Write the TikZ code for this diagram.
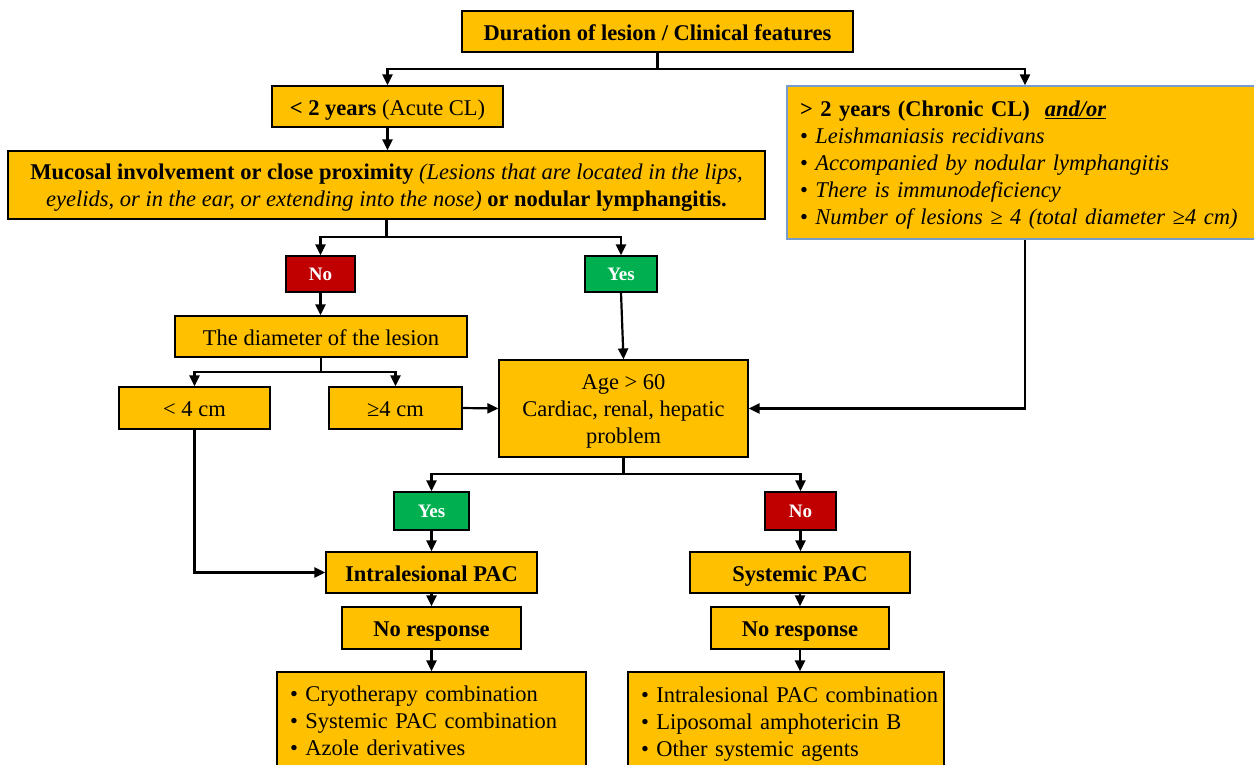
\documentclass[tikz,border=0pt]{standalone}
\usepackage{fontspec}
\setmainfont{Liberation Serif}
\usetikzlibrary{arrows.meta}
\definecolor{gold}{HTML}{FFC000}
\definecolor{nored}{HTML}{C00000}
\definecolor{yesgreen}{HTML}{00B050}
\definecolor{bluebd}{RGB}{120,155,205}
\newcommand{\upstrut}{\rule{0pt}{21pt}}
\tikzset{
  box/.style={draw=black, fill=gold, line width=1.2pt, inner sep=0pt, align=center,
    font=\fontsize{22.5}{27}\selectfont},
  one/.style={box, text height=18pt, text depth=1pt},
  nobox/.style={box, fill=nored, text=white, font=\fontsize{19}{22}\selectfont\bfseries,
    text height=14pt, text depth=1pt},
  yesbox/.style={nobox, fill=yesgreen},
  arr/.style={line width=2.2pt, -{Triangle[length=11pt,width=10pt]}},
  ln/.style={line width=2.2pt}
}
\begin{document}
\begin{tikzpicture}[x=1pt,y=-1pt]
\clip (0,0) rectangle (1254,764);
\fill[white] (0,0) rectangle (1254,764);
% nodes
\node[one, minimum width=391, minimum height=41] (top) at (657.5,31.5) {\textbf{Duration of lesion / Clinical features}};
\node[one, minimum width=231, minimum height=41] (acute) at (387.5,106.5) {\textbf{< 2 years} (Acute CL)};
\node[box, draw=bluebd, minimum width=476, minimum height=153, text width=450, inner xsep=13pt, align=left] (chronic) at (1025,162.5)
 {\upstrut\textbf{> 2 years (Chronic CL)}\ \ \textbf{\textit{\underline{and/or}}}\\
  • \textit{Leishmaniasis recidivans}\\
  • \textit{Accompanied by nodular lymphangitis}\\
  • \textit{There is immunodeficiency}\\
  • \textit{Number of lesions ≥ 4 (total diameter ≥4 cm)}};
\node[box, minimum width=757, minimum height=68] (mucosal) at (386.5,185)
 {\upstrut\textbf{Mucosal involvement or close proximity} \textit{(Lesions that are located in the lips,}\\
  \textit{eyelids, or in the ear, or extending into the nose)} \textbf{or nodular lymphangitis.}};
\node[nobox, minimum width=69, minimum height=36] (no1) at (320.5,274) {No};
\node[yesbox, minimum width=72, minimum height=36] (yes1) at (621,274) {Yes};
\node[one, minimum width=292, minimum height=41] (diam) at (321,336.5) {The diameter of the lesion};
\node[one, minimum width=151, minimum height=42] (lt4) at (194.5,408) {< 4 cm};
\node[one, minimum width=133, minimum height=42] (ge4) at (395.5,408) {≥4 cm};
\node[box, minimum width=249, minimum height=97] (age) at (623.5,408.5) {\upstrut Age > 60\\Cardiac, renal, hepatic\\problem};
\node[yesbox, minimum width=75, minimum height=38] (yes2) at (431.5,511) {Yes};
\node[nobox, minimum width=71, minimum height=38] (no2) at (800.5,511) {No};
\node[one, minimum width=211, minimum height=41] (intra) at (431.5,572.5) {\textbf{Intralesional PAC}};
\node[one, minimum width=220, minimum height=41] (sys) at (800,572.5) {\textbf{Systemic PAC}};
\node[one, minimum width=179, minimum height=42] (nr1) at (431.5,628) {\textbf{No response}};
\node[one, minimum width=178, minimum height=42] (nr2) at (800,628) {\textbf{No response}};
\node[box, minimum width=309, minimum height=98, text width=283, inner xsep=13pt, align=left] (opt1) at (431.5,721)
 {\mbox{• Cryotherapy combination}\\\mbox{• Systemic PAC combination}\\\mbox{• Azole derivatives}};
\node[box, minimum width=316, minimum height=98, text width=290, inner xsep=13pt, align=left] (opt2) at (786,721)
 {\upstrut\mbox{• Intralesional PAC combination}\\\mbox{• Liposomal amphotericin B}\\\mbox{• Other systemic agents}};
% connectors
\coordinate (j1) at (657.5,69);
\draw[ln] (top.south) -- (j1);
\draw[arr] (j1) -| (acute.north);
\draw[arr] (j1) -| (chronic.north);
\draw[arr] (acute.south) -- (mucosal.north -| acute.south);
\coordinate (j2) at (386.5,237);
\draw[ln] (mucosal.south) -- (j2);
\draw[arr] (j2) -| (no1.north);
\draw[arr] (j2) -| (yes1.north);
\draw[arr] (no1.south) -- (diam.north -| no1.south);
\draw[arr] (yes1.south) -- (age.north);
\coordinate (j3) at (321,372);
\draw[ln] (diam.south) -- (j3);
\draw[arr] (j3) -| (lt4.north);
\draw[arr] (j3) -| (ge4.north);
\draw[arr] (ge4.east) -- (age.west);
\draw[arr] (chronic.south) |- (age.east);
\coordinate (j4) at (623.5,474);
\draw[ln] (age.south) -- (j4);
\draw[arr] (j4) -| (yes2.north);
\draw[arr] (j4) -| (no2.north);
\draw[arr] (yes2.south) -- (intra.north);
\draw[arr] (no2.south) -- (sys.north -| no2.south);
\draw[arr] (lt4.south) |- (intra.west);
\draw[arr] (intra.south) -- (nr1.north);
\draw[arr] (sys.south) -- (nr2.north);
\draw[arr] (nr1.south) -- (opt1.north);
\draw[arr] (nr2.south) -- (opt2.north -| nr2.south);
\end{tikzpicture}
\end{document}
